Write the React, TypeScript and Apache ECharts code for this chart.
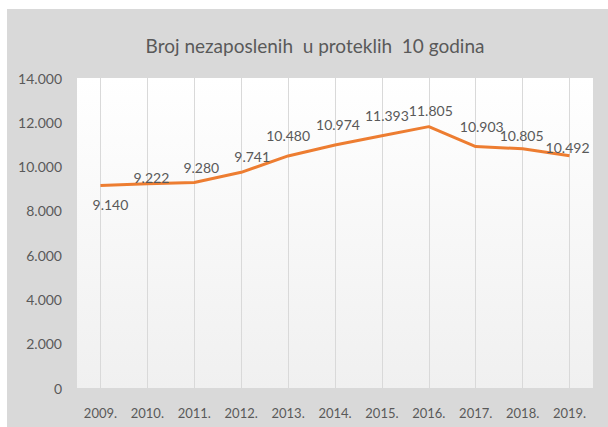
import React, { useEffect, useRef } from "react";
import * as echarts from "echarts";

const years = ["2009.", "2010.", "2011.", "2012.", "2013.", "2014.", "2015.", "2016.", "2017.", "2018.", "2019."];
const unemployed = [9140, 9222, 9280, 9741, 10480, 10974, 11393, 11805, 10903, 10805, 10492];
const labelOffsets: [number, number][] = [
  [10, 19], [4, -6], [7, -15], [11, -16], [0, -20], [3, -21], [5, -20], [2, -16], [6, -20], [-1, -13], [-2, -8],
];
const titleText = "Broj nezaposlenih  u proteklih  10 godina";

const fmt = (v: number) => {
  const s = Math.round(v).toString();
  return s.replace(/\B(?=(\d{3})+(?!\d))/g, ".");
};

export default function App() {
  const ref = useRef<HTMLDivElement>(null);
  useEffect(() => {
    if (!ref.current) return;
    const chart = echarts.init(ref.current, null, { renderer: "svg" });
    const textColor = "#595959";
    const font = "Lato, 'Open Sans', sans-serif";
    chart.setOption({
      animation: false,
      backgroundColor: "#ffffff",
      graphic: [
        {
          type: "rect",
          z: -10,
          silent: true,
          shape: { x: 7, y: 9, width: 601, height: 418 },
          style: { fill: "#d9d9d9" },
        },
      ],
      title: {
        text: titleText,
        left: 310,
        textAlign: "center",
        top: 31,
        textStyle: { color: textColor, fontFamily: font, fontSize: 19, fontWeight: "normal" },
      },
      grid: {
        left: 77,
        right: 15,
        top: 78,
        bottom: 39,
        show: true,
        borderWidth: 0,
        backgroundColor: new echarts.graphic.LinearGradient(0, 0, 0, 1, [
          { offset: 0, color: "#ffffff" },
          { offset: 1, color: "#f0f0f0" },
        ]),
      },
      xAxis: {
        type: "category",
        data: years,
        boundaryGap: true,
        axisLine: { show: false },
        axisTick: { show: false },
        axisLabel: { color: textColor, fontFamily: font, fontSize: 13, margin: 18 },
        splitLine: { show: true, alignWithLabel: true, lineStyle: { color: "#d9d9d9", width: 1 } },
      },
      yAxis: {
        type: "value",
        min: 0,
        max: 14000,
        interval: 2000,
        axisLine: { show: false },
        axisTick: { show: false },
        splitLine: { show: false },
        axisLabel: {
          color: textColor,
          fontFamily: font,
          fontSize: 14,
          margin: 15,
          formatter: (v: number) => fmt(v),
        },
      },
      series: [
        {
          type: "line",
          data: unemployed.map((v, i) => ({
            value: v,
            label: { offset: labelOffsets[i] },
          })),
          symbol: "circle",
          symbolSize: 1,
          showSymbol: true,
          lineStyle: { color: "#ED7D31", width: 3 },
          itemStyle: { color: "rgba(0,0,0,0)" },
          label: {
            show: true,
            position: "inside",
            color: textColor,
            fontFamily: font,
            fontSize: 14,
            formatter: (p: any) => fmt(p.value),
          },
        },
      ],
    });
    return () => chart.dispose();
  }, []);
  return (
    <div
      ref={ref}
      style={{ position: "fixed", left: 0, top: 0, width: 608, height: 427 }}
    />
  );
}
